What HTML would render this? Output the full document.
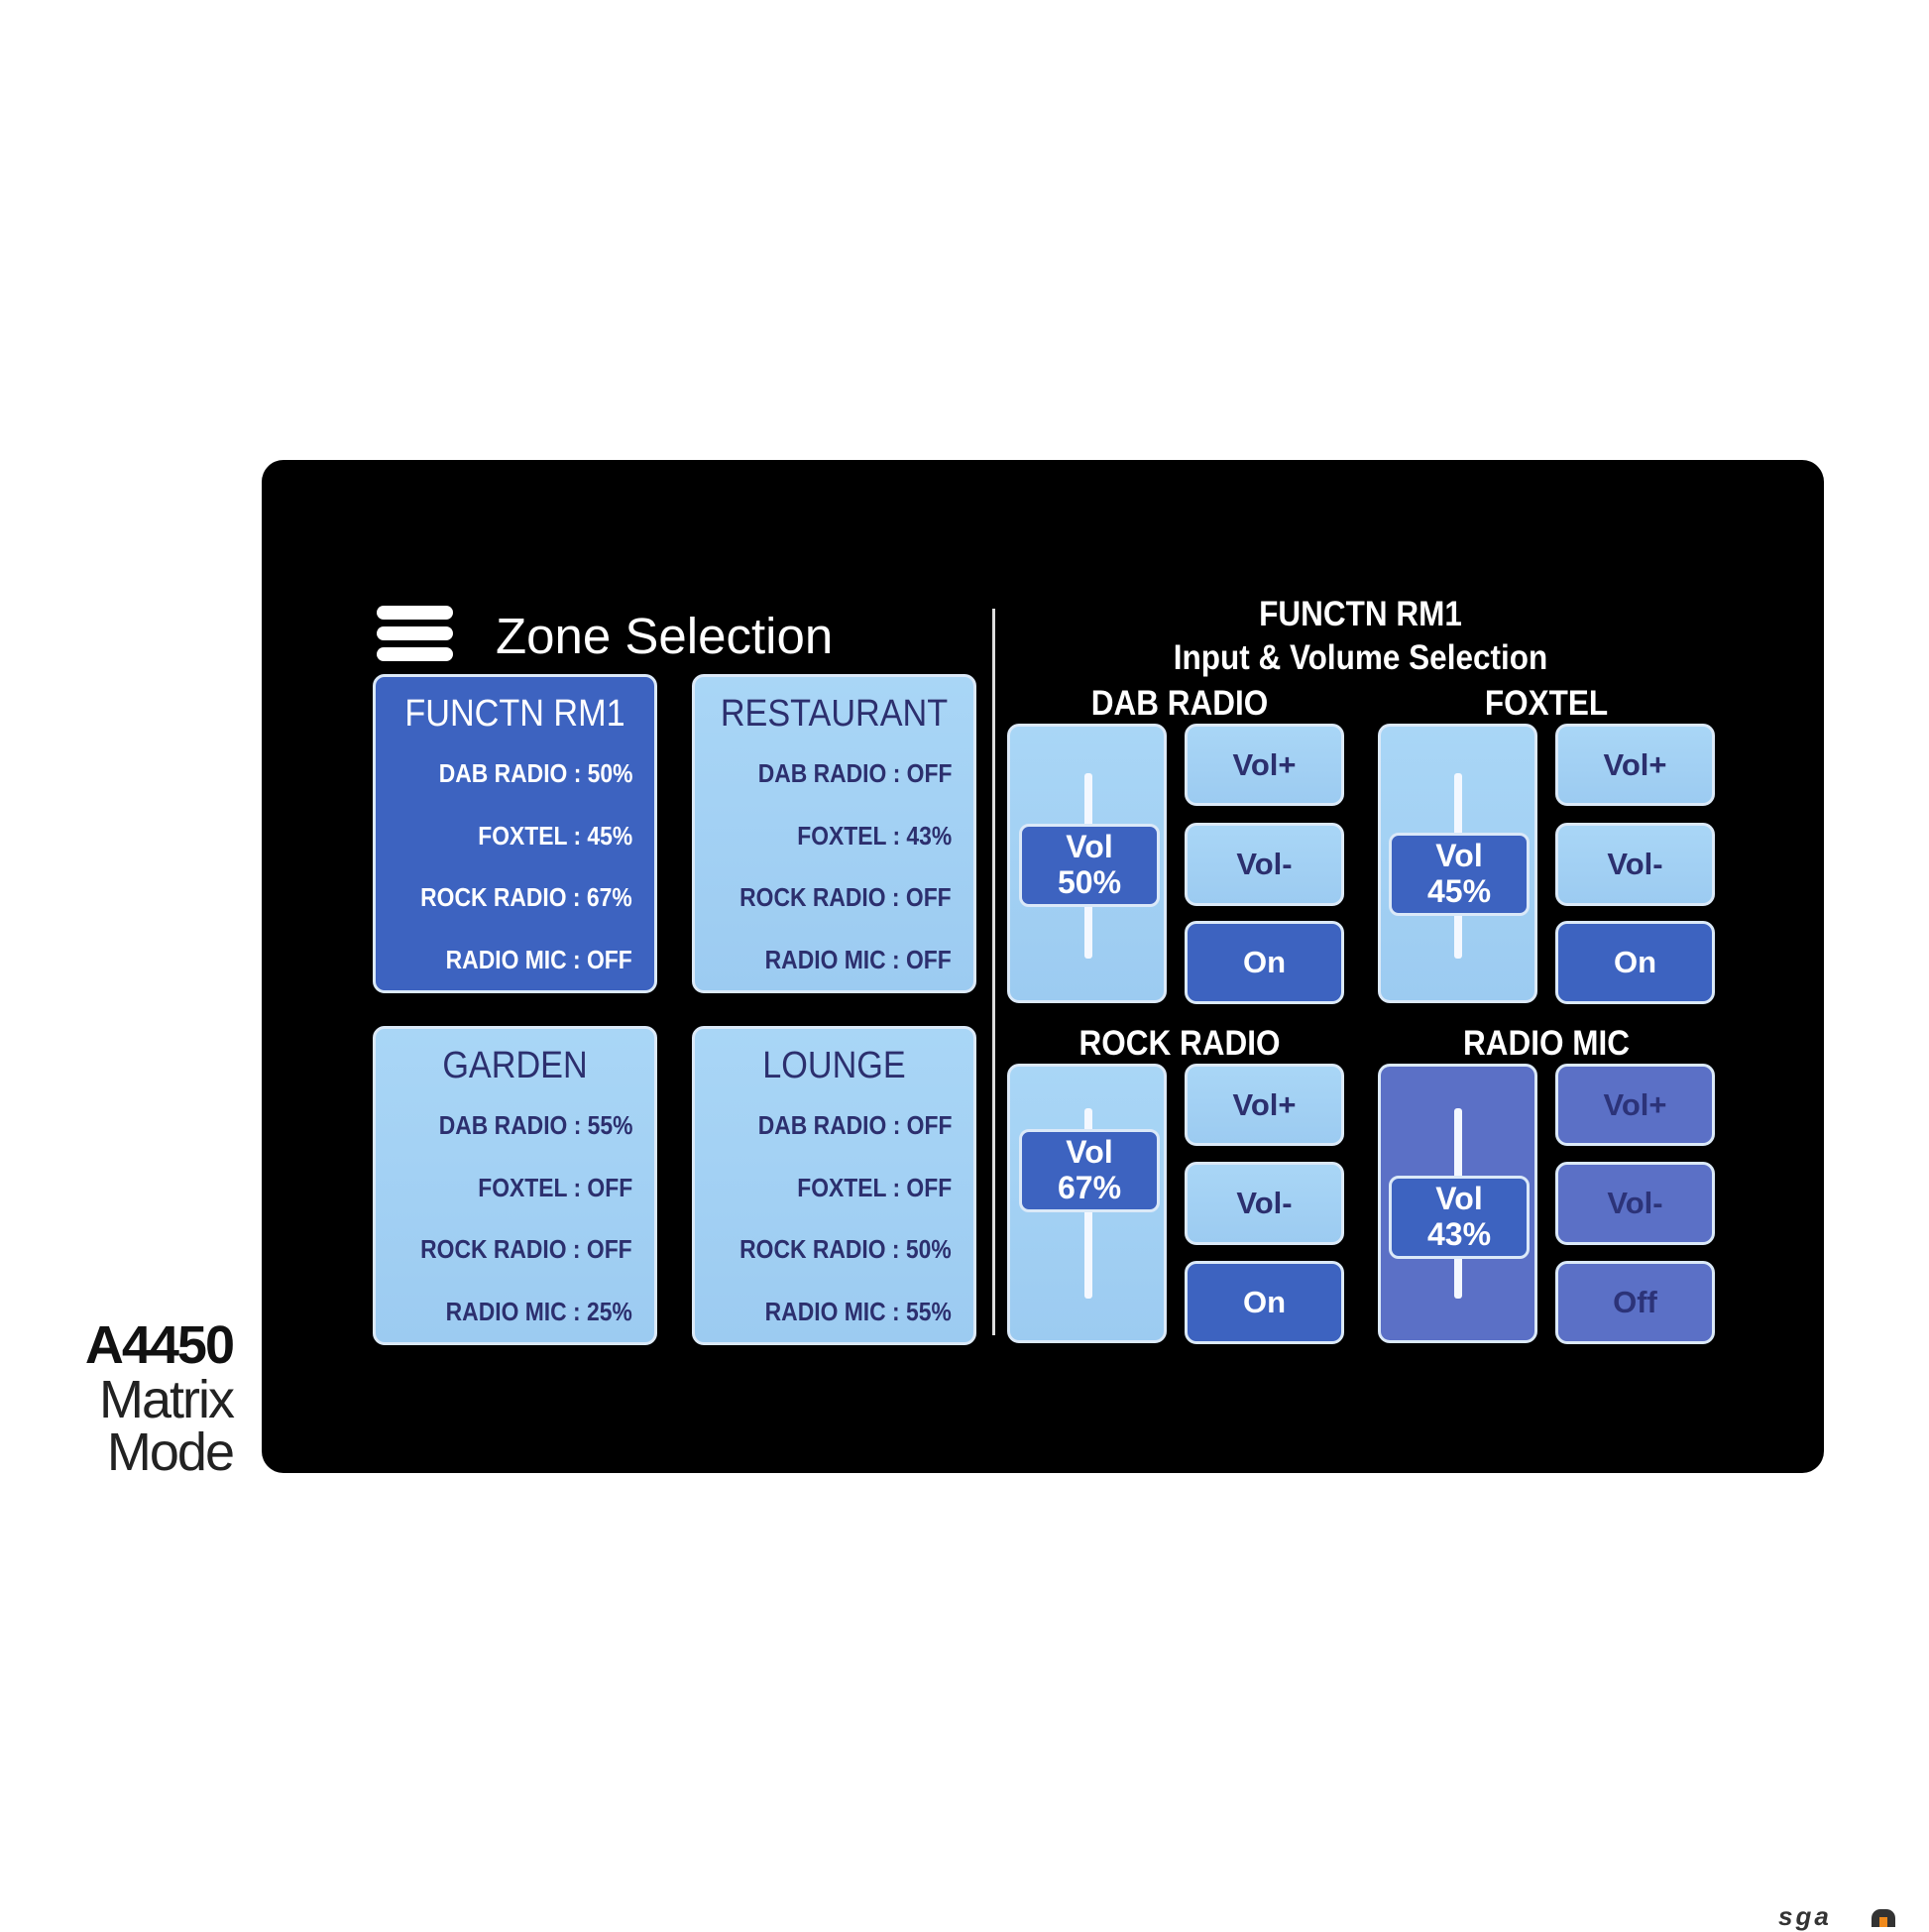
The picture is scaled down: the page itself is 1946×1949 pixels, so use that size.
<!DOCTYPE html>
<html><head><meta charset="utf-8"><style>
*{margin:0;padding:0;box-sizing:border-box}
body{width:1946px;height:1946px;background:#fff;position:relative;overflow:hidden;font-family:"Liberation Sans",sans-serif}
.a{position:absolute}
.panel{left:264px;top:464px;width:1576px;height:1022px;background:#000;border-radius:22px}
.box{position:absolute;border:3px solid #dbe9f8;border-radius:12px}
.lt{background:linear-gradient(180deg,#a9d6f6,#9ccbf1);color:#2c2f6e}
.dk{background:#3d63c0;color:#fff}
.md{background:#5b70c6;color:#2c3378}
.t{position:absolute;white-space:nowrap;font-weight:bold}
.zt{position:absolute;left:0;right:0;text-align:center;font-size:38px;top:16px;font-weight:normal;transform:scaleX(0.9)}
.row{position:absolute;right:22px;font-size:26px;font-weight:bold;transform-origin:right center;transform:scaleX(0.88);white-space:nowrap}
.btn{display:flex;align-items:center;justify-content:center;font-size:31px;font-weight:bold}
.trk{position:absolute;width:8px;background:#f4f8ff;border-radius:3px}
.knob{position:absolute;border:3px solid #dbe9f8;border-radius:10px;background:#3d63c0;color:#fff;text-align:center;font-size:32px;font-weight:bold;line-height:36px;padding-top:2px}
.hd{position:absolute;color:#fff;font-size:35px;font-weight:bold;text-align:center;transform:scaleX(0.9)}
</style></head><body>
<div class="a panel"></div>
<div class="a" style="left:380px;top:611px;width:77px;height:14px;background:#fff;border-radius:7px"></div>
<div class="a" style="left:380px;top:632px;width:77px;height:14px;background:#fff;border-radius:7px"></div>
<div class="a" style="left:380px;top:653px;width:77px;height:14px;background:#fff;border-radius:7px"></div>
<div class="t" style="left:500px;top:612px;color:#fff;font-size:51px;font-weight:normal">Zone Selection</div>
<div class="a" style="left:1001px;top:614px;width:3px;height:733px;background:#ddd"></div>

<div class="box dk" style="left:376px;top:680px;width:287px;height:322px">
 <div class="zt">FUNCTN RM1</div>
 <div class="row" style="top:82px">DAB RADIO : 50%</div>
 <div class="row" style="top:145px">FOXTEL : 45%</div>
 <div class="row" style="top:207px">ROCK RADIO : 67%</div>
 <div class="row" style="top:270px">RADIO MIC : OFF</div>
</div>
<div class="box lt" style="left:698px;top:680px;width:287px;height:322px">
 <div class="zt">RESTAURANT</div>
 <div class="row" style="top:82px">DAB RADIO : OFF</div>
 <div class="row" style="top:145px">FOXTEL : 43%</div>
 <div class="row" style="top:207px">ROCK RADIO : OFF</div>
 <div class="row" style="top:270px">RADIO MIC : OFF</div>
</div>
<div class="box lt" style="left:376px;top:1035px;width:287px;height:322px">
 <div class="zt">GARDEN</div>
 <div class="row" style="top:82px">DAB RADIO : 55%</div>
 <div class="row" style="top:145px">FOXTEL : OFF</div>
 <div class="row" style="top:207px">ROCK RADIO : OFF</div>
 <div class="row" style="top:270px">RADIO MIC : 25%</div>
</div>
<div class="box lt" style="left:698px;top:1035px;width:287px;height:322px">
 <div class="zt">LOUNGE</div>
 <div class="row" style="top:82px">DAB RADIO : OFF</div>
 <div class="row" style="top:145px">FOXTEL : OFF</div>
 <div class="row" style="top:207px">ROCK RADIO : 50%</div>
 <div class="row" style="top:270px">RADIO MIC : 55%</div>
</div>

<div class="hd" style="left:1100px;width:545px;top:600px">FUNCTN RM1</div>
<div class="hd" style="left:1100px;width:545px;top:644px">Input &amp; Volume Selection</div>
<div class="hd" style="left:1040px;width:300px;top:690px">DAB RADIO</div>
<div class="hd" style="left:1410px;width:300px;top:690px">FOXTEL</div>
<div class="hd" style="left:1040px;width:300px;top:1033px">ROCK RADIO</div>
<div class="hd" style="left:1410px;width:300px;top:1033px">RADIO MIC</div>

<div class="box lt" style="left:1016px;top:730px;width:161px;height:282px"></div>
<div class="trk" style="left:1094px;top:780px;height:187px"></div>
<div class="knob" style="left:1028px;top:831px;width:142px;height:84px">Vol<br>50%</div>
<div class="box lt btn" style="left:1195px;top:730px;width:161px;height:83px">Vol+</div>
<div class="box lt btn" style="left:1195px;top:830px;width:161px;height:84px">Vol-</div>
<div class="box dk btn" style="left:1195px;top:929px;width:161px;height:84px">On</div>

<div class="box lt" style="left:1390px;top:730px;width:161px;height:282px"></div>
<div class="trk" style="left:1467px;top:780px;height:187px"></div>
<div class="knob" style="left:1401px;top:840px;width:142px;height:84px">Vol<br>45%</div>
<div class="box lt btn" style="left:1569px;top:730px;width:161px;height:83px">Vol+</div>
<div class="box lt btn" style="left:1569px;top:830px;width:161px;height:84px">Vol-</div>
<div class="box dk btn" style="left:1569px;top:929px;width:161px;height:84px">On</div>

<div class="box lt" style="left:1016px;top:1073px;width:161px;height:282px"></div>
<div class="trk" style="left:1094px;top:1118px;height:192px"></div>
<div class="knob" style="left:1028px;top:1139px;width:142px;height:84px">Vol<br>67%</div>
<div class="box lt btn" style="left:1195px;top:1073px;width:161px;height:83px">Vol+</div>
<div class="box lt btn" style="left:1195px;top:1172px;width:161px;height:84px">Vol-</div>
<div class="box dk btn" style="left:1195px;top:1272px;width:161px;height:84px">On</div>

<div class="box md" style="left:1390px;top:1073px;width:161px;height:282px"></div>
<div class="trk" style="left:1467px;top:1118px;height:192px"></div>
<div class="knob" style="left:1401px;top:1186px;width:142px;height:84px">Vol<br>43%</div>
<div class="box md btn" style="left:1569px;top:1073px;width:161px;height:83px">Vol+</div>
<div class="box md btn" style="left:1569px;top:1172px;width:161px;height:84px">Vol-</div>
<div class="box md btn" style="left:1569px;top:1272px;width:161px;height:84px">Off</div>

<div class="t" style="right:1711px;top:1326px;font-size:54px;color:#111;letter-spacing:-2px">A4450</div>
<div class="t" style="right:1711px;top:1381px;font-size:54px;color:#222;font-weight:normal;letter-spacing:-2px">Matrix</div>
<div class="t" style="right:1711px;top:1434px;font-size:54px;color:#222;font-weight:normal;letter-spacing:-2px">Mode</div>
<div class="t" style="left:1794px;top:1918px;font-size:26px;color:#333;font-style:italic;letter-spacing:3px">sga</div>
<div class="a" style="left:1888px;top:1926px;width:24px;height:18px;background:#333;border-radius:9px 9px 0 0"></div>
<div class="a" style="left:1896px;top:1934px;width:8px;height:10px;background:#f08a1c"></div>
</body></html>
